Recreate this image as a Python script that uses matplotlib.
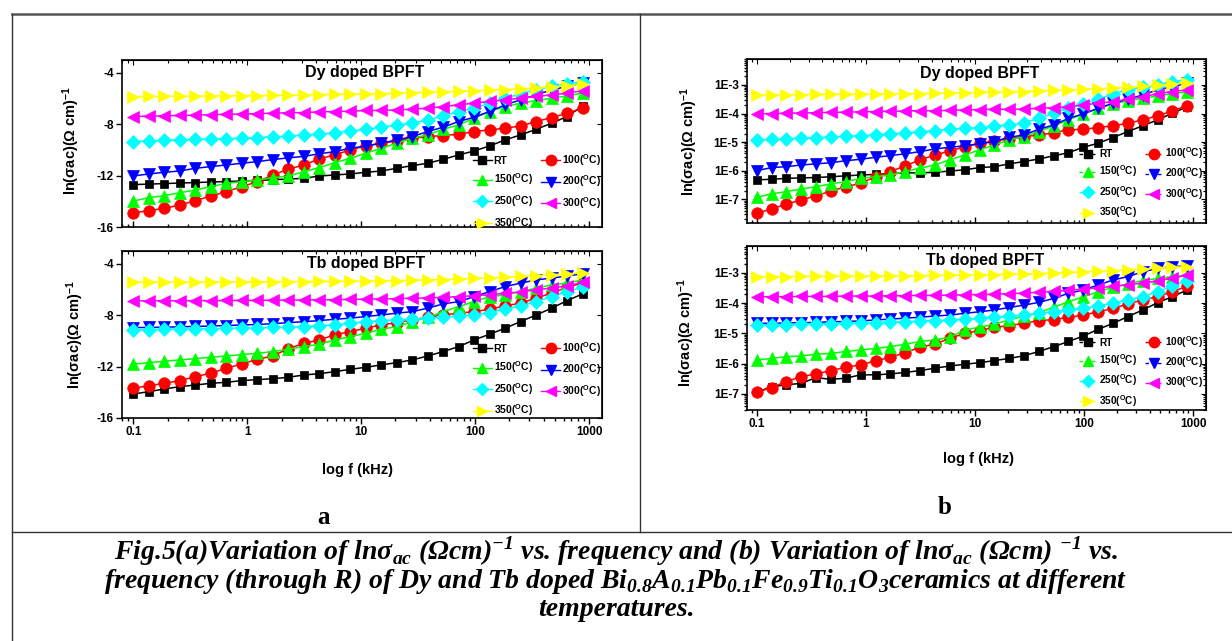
import numpy as np
import matplotlib
matplotlib.use("Agg")
import matplotlib.pyplot as plt
from matplotlib.lines import Line2D
from matplotlib.ticker import FixedLocator, FuncFormatter, NullFormatter

plt.rcParams['font.family'] = ['Liberation Sans', 'DejaVu Sans']
plt.rcParams['font.weight'] = 'bold'
plt.rcParams['axes.unicode_minus'] = False
plt.rcParams['mathtext.fontset'] = 'custom'
plt.rcParams['mathtext.rm'] = 'Liberation Sans:bold'
plt.rcParams['mathtext.bf'] = 'Liberation Serif:bold:italic'
plt.rcParams['mathtext.default'] = 'rm'

# ────────────────────────────────────────────────
# Data
# ────────────────────────────────────────────────
freq_khz = [0.1, 0.137, 0.187, 0.256, 0.35, 0.479, 0.655, 0.896, 1.23, 1.68,
            2.29, 3.14, 4.29, 5.87, 8.03, 11.0, 15.0, 20.5, 28.1, 38.4,
            52.5, 71.8, 98.2, 134, 184, 251, 344, 470, 643, 880]

temps = ['RT', '100', '150', '200', '250', '300', '350']

# (a) Dy doped, ln(sigma_ac)
dy_ln_rt = [-12.7, -12.66, -12.62, -12.58, -12.54, -12.5, -12.46, -12.42, -12.37, -12.32,
            -12.27, -12.21, -12.03, -11.95, -11.87, -11.74, -11.64, -11.43, -11.22, -11.04,
            -10.73, -10.39, -10.08, -9.69, -9.22, -8.83, -8.39, -7.92, -7.40, -6.57]
dy_ln_100 = [-14.89, -14.73, -14.55, -14.29, -13.95, -13.59, -13.25, -12.86, -12.47, -11.95,
             -11.5, -11.17, -10.7, -10.39, -10.0, -9.69, -9.48, -9.3, -9.09, -8.96,
             -8.88, -8.78, -8.57, -8.44, -8.31, -8.13, -7.79, -7.48, -7.14, -6.75]
dy_ln_150 = [-13.98, -13.72, -13.56, -13.33, -13.12, -12.86, -12.6, -12.47, -12.34, -12.16,
             -12.05, -11.69, -11.38, -10.99, -10.65, -10.26, -9.87, -9.48, -9.09, -8.83,
             -8.39, -8.05, -7.53, -7.01, -6.62, -6.36, -6.16, -5.97, -5.79, -5.58]
dy_ln_200 = [-12.03, -11.87, -11.74, -11.64, -11.43, -11.3, -11.17, -11.04, -10.91, -10.75,
             -10.62, -10.5, -10.3, -10.13, -9.87, -9.69, -9.48, -9.22, -8.96, -8.57,
             -8.23, -7.79, -7.45, -7.01, -6.49, -6.1, -5.71, -5.32, -5.06, -4.8]
dy_ln_250 = [-9.35, -9.3, -9.25, -9.22, -9.17, -9.14, -9.12, -9.09, -9.04, -8.99,
             -8.93, -8.83, -8.78, -8.65, -8.52, -8.39, -8.23, -8.05, -7.92, -7.66,
             -7.35, -7.01, -6.75, -6.36, -5.97, -5.64, -5.32, -5.06, -4.86, -4.68]
dy_ln_300 = [-7.4, -7.37, -7.34, -7.32, -7.29, -7.26, -7.23, -7.2, -7.17, -7.14,
             -7.11, -7.09, -7.04, -7.01, -6.99, -6.93, -6.93, -6.88, -6.83, -6.75,
             -6.62, -6.49, -6.36, -6.23, -6.1, -5.97, -5.84, -5.71, -5.58, -5.38]
dy_ln_350 = [-5.85, -5.84, -5.83, -5.82, -5.81, -5.80, -5.79, -5.78, -5.77, -5.76,
             -5.74, -5.72, -5.70, -5.68, -5.66, -5.64, -5.61, -5.58, -5.55, -5.52,
             -5.48, -5.44, -5.40, -5.35, -5.30, -5.24, -5.17, -5.09, -5.0, -4.88]

# (a) Tb doped, ln(sigma_ac)
tb_ln_rt = [-14.13, -13.95, -13.74, -13.56, -13.43, -13.3, -13.22, -13.09, -13.01, -12.94,
            -12.83, -12.65, -12.55, -12.39, -12.21, -12.05, -11.87, -11.69, -11.48, -11.17,
            -10.83, -10.44, -9.92, -9.48, -9.01, -8.49, -7.98, -7.45, -6.86, -6.34]
tb_ln_100 = [-13.69, -13.48, -13.3, -13.09, -12.78, -12.52, -12.13, -11.79, -11.43, -11.17,
             -10.6, -10.2, -9.92, -9.53, -9.27, -9.01, -8.75, -8.57, -8.36, -8.15,
             -7.98, -7.84, -7.72, -7.53, -7.27, -7.06, -6.67, -6.28, -5.82, -5.5]
tb_ln_150 = [-11.82, -11.69, -11.58, -11.48, -11.38, -11.27, -11.17, -11.07, -10.96, -10.83,
             -10.65, -10.44, -10.26, -9.92, -9.67, -9.4, -9.09, -8.89, -8.5, -8.15,
             -7.72, -7.33, -6.94, -6.55, -6.42, -6.16, -5.9, -5.64, -5.5, -5.25]
tb_ln_200 = [-8.96, -8.95, -8.93, -8.9, -8.87, -8.84, -8.8, -8.76, -8.72, -8.66,
             -8.58, -8.5, -8.42, -8.31, -8.23, -8.1, -7.98, -7.84, -7.72, -7.45,
             -7.12, -6.94, -6.55, -6.16, -5.77, -5.5, -5.25, -5.11, -4.94, -4.78]
tb_ln_250 = [-9.14, -9.12, -9.1, -9.08, -9.06, -9.04, -9.02, -9.0, -8.98, -8.95,
             -8.92, -8.89, -8.83, -8.75, -8.62, -8.5, -8.42, -8.36, -8.31, -8.23,
             -8.15, -8.05, -7.98, -7.79, -7.51, -7.27, -6.94, -6.55, -6.16, -5.82]
tb_ln_300 = [-6.88, -6.88, -6.87, -6.87, -6.86, -6.86, -6.85, -6.85, -6.84, -6.83,
             -6.82, -6.81, -6.8, -6.79, -6.77, -6.75, -6.73, -6.71, -6.68, -6.65,
             -6.61, -6.55, -6.48, -6.4, -6.3, -6.18, -6.03, -5.88, -5.71, -5.45]
tb_ln_350 = [-5.43, -5.43, -5.42, -5.42, -5.41, -5.41, -5.40, -5.40, -5.39, -5.39,
             -5.38, -5.38, -5.37, -5.36, -5.35, -5.34, -5.32, -5.30, -5.28, -5.25,
             -5.22, -5.18, -5.14, -5.09, -5.04, -4.98, -4.92, -4.85, -4.78, -4.70]

# (b) Dy doped, log10(sigma_ac)
dy_log_rt = [-6.32, -6.30, -6.27, -6.25, -6.24, -6.21, -6.18, -6.15, -6.13, -6.10,
             -6.08, -6.07, -6.06, -6.01, -5.97, -5.89, -5.86, -5.76, -5.68, -5.59,
             -5.48, -5.37, -5.18, -5.04, -4.84, -4.63, -4.43, -4.22, -3.99, -3.76]
dy_log_100 = [-7.49, -7.34, -7.17, -7.02, -6.88, -6.71, -6.56, -6.44, -6.21, -6.03,
              -5.83, -5.62, -5.45, -5.31, -5.16, -5.04, -4.96, -4.88, -4.81, -4.75,
              -4.67, -4.57, -4.55, -4.49, -4.43, -4.34, -4.22, -4.08, -3.91, -3.72]
dy_log_150 = [-6.93, -6.81, -6.73, -6.64, -6.56, -6.46, -6.38, -6.27, -6.21, -6.15,
              -6.03, -5.91, -5.8, -5.62, -5.45, -5.27, -5.1, -4.92, -4.81, -4.63,
              -4.43, -4.22, -4.01, -3.82, -3.66, -3.55, -3.47, -3.38, -3.31, -3.23]
dy_log_200 = [-6.0, -5.89, -5.86, -5.8, -5.76, -5.72, -5.65, -5.6, -5.53, -5.47,
              -5.41, -5.33, -5.24, -5.18, -5.13, -5.06, -4.98, -4.83, -4.75, -4.55,
              -4.4, -4.17, -4.01, -3.82, -3.64, -3.5, -3.35, -3.17, -3.06, -2.94]
dy_log_250 = [-4.92, -4.9, -4.88, -4.86, -4.84, -4.82, -4.8, -4.77, -4.74, -4.71,
              -4.68, -4.64, -4.6, -4.55, -4.52, -4.49, -4.43, -4.4, -4.32, -4.17,
              -3.99, -3.82, -3.66, -3.5, -3.31, -3.17, -3.08, -3.0, -2.88, -2.83]
dy_log_300 = [-4.01, -4.0, -3.99, -3.98, -3.97, -3.96, -3.95, -3.94, -3.93, -3.92,
              -3.91, -3.9, -3.9, -3.89, -3.87, -3.86, -3.85, -3.85, -3.84, -3.82,
              -3.79, -3.76, -3.7, -3.64, -3.58, -3.5, -3.41, -3.31, -3.23, -3.17]
dy_log_350 = [-3.35, -3.35, -3.34, -3.34, -3.33, -3.33, -3.32, -3.32, -3.31, -3.31,
              -3.30, -3.30, -3.29, -3.28, -3.27, -3.26, -3.25, -3.24, -3.23, -3.21,
              -3.19, -3.17, -3.15, -3.13, -3.11, -3.08, -3.05, -3.01, -2.97, -2.93]

# (b) Tb doped, log10(sigma_ac)
tb_log_rt = [-6.95, -6.76, -6.7, -6.65, -6.46, -6.52, -6.48, -6.37, -6.37, -6.34,
             -6.29, -6.23, -6.15, -6.08, -6.02, -5.97, -5.9, -5.83, -5.74, -5.6,
             -5.44, -5.27, -5.09, -4.87, -4.67, -4.45, -4.23, -3.99, -3.79, -3.57]
tb_log_100 = [-6.95, -6.79, -6.59, -6.43, -6.34, -6.23, -6.12, -6.04, -5.91, -5.79,
              -5.64, -5.46, -5.35, -5.17, -5.0, -4.91, -4.8, -4.75, -4.67, -4.58,
              -4.55, -4.47, -4.4, -4.29, -4.18, -4.03, -3.9, -3.79, -3.63, -3.44]
tb_log_150 = [-5.88, -5.83, -5.77, -5.75, -5.69, -5.66, -5.6, -5.55, -5.5, -5.44,
              -5.36, -5.27, -5.22, -5.13, -4.89, -4.8, -4.7, -4.56, -4.43, -4.32,
              -4.14, -3.96, -3.79, -3.63, -3.48, -3.37, -3.26, -3.19, -3.13, -3.08]
tb_log_200 = [-4.67, -4.67, -4.66, -4.65, -4.64, -4.62, -4.61, -4.59, -4.56, -4.53,
              -4.5, -4.47, -4.43, -4.4, -4.34, -4.29, -4.23, -4.15, -4.07, -3.98,
              -3.85, -3.68, -3.57, -3.41, -3.24, -3.13, -2.97, -2.86, -2.8, -2.78]
tb_log_250 = [-4.72, -4.72, -4.71, -4.7, -4.69, -4.68, -4.67, -4.66, -4.65, -4.63,
              -4.62, -4.6, -4.58, -4.56, -4.54, -4.51, -4.47, -4.43, -4.4, -4.34,
              -4.29, -4.23, -4.18, -4.1, -4.01, -3.9, -3.79, -3.63, -3.44, -3.26]
tb_log_300 = [-3.79, -3.79, -3.79, -3.78, -3.78, -3.78, -3.77, -3.77, -3.77, -3.76,
              -3.76, -3.75, -3.75, -3.74, -3.73, -3.72, -3.71, -3.69, -3.67, -3.65,
              -3.62, -3.58, -3.54, -3.5, -3.45, -3.4, -3.34, -3.27, -3.18, -3.08]
tb_log_350 = [-3.13, -3.13, -3.13, -3.12, -3.12, -3.12, -3.11, -3.11, -3.11, -3.1,
              -3.1, -3.1, -3.09, -3.09, -3.08, -3.07, -3.06, -3.05, -3.04, -3.03,
              -3.01, -2.99, -2.97, -2.95, -2.93, -2.91, -2.88, -2.85, -2.82, -2.8]

colors = ['black', 'red', '#00ff00', 'blue', 'cyan', 'magenta', '#ffff00']
markers = ['s', 'o', '^', 'v', 'D', '<', '>']
msizes = [5.8, 8.3, 8.3, 8.3, 7.0, 8.3, 8.3]

W, H = 1232, 641


def fx(x):
    return x / W


def fy(y):
    return 1 - y / H


def add_axes_px(fig, left, top, right, bottom):
    return fig.add_axes([fx(left), fy(bottom), (right - left) / W, (bottom - top) / H])


def legend_label(t):
    return 'RT' if t == 'RT' else t + '($^{O}$C)'


def draw_panel(ax, series, title, title_xy, log_y, show_xlabels, leg_dashed, leg_anchor):
    for vals, c, m, s in zip(series, colors, markers, msizes):
        y = np.power(10.0, vals) if log_y else vals
        ax.plot(freq_khz, y, color=c, marker=m, ms=s, lw=1.1, mec=c, mew=0.5)

    ax.set_xscale('log')
    if log_y:
        ax.set_yscale('log')
        ax.yaxis.set_major_locator(FixedLocator([1e-7, 1e-6, 1e-5, 1e-4, 1e-3]))
        ax.yaxis.set_major_formatter(
            FuncFormatter(lambda v, p: '1E%d' % int(round(np.log10(v)))))
        ax.yaxis.set_minor_formatter(NullFormatter())
    else:
        ax.yaxis.set_major_locator(FixedLocator([-16, -12, -8, -4]))
        ax.yaxis.set_major_formatter(FuncFormatter(lambda v, p: '%d' % v))

    ax.xaxis.set_major_locator(FixedLocator([0.1, 1, 10, 100, 1000]))
    ax.xaxis.set_major_formatter(FuncFormatter(lambda v, p: '%g' % v))
    ax.xaxis.set_minor_formatter(NullFormatter())

    ax.tick_params(which='both', direction='out', width=1.0, labelsize=8.5, pad=2)
    ax.tick_params(which='major', length=4)
    ax.tick_params(which='minor', length=2.2)
    if not show_xlabels:
        ax.tick_params(axis='x', which='both', direction='in', labelbottom=False)
    for sp in ax.spines.values():
        sp.set_linewidth(1.2)

    # mirrored inward ticks on top and right
    secx = ax.secondary_xaxis('top')
    secx.set_xscale('log')
    secx.xaxis.set_major_locator(FixedLocator([0.1, 1, 10, 100, 1000]))
    secx.tick_params(which='both', direction='in', labeltop=False, width=0.8)
    secx.tick_params(which='major', length=3.5)
    secx.tick_params(which='minor', length=2)
    secy = ax.secondary_yaxis('right')
    if log_y:
        secy.set_yscale('log')
    secy.yaxis.set_major_locator(ax.yaxis.get_major_locator())
    secy.tick_params(which='both', direction='in', labelright=False, width=0.8)
    secy.tick_params(which='major', length=3.5)
    secy.tick_params(which='minor', length=2)

    ax.text(title_xy[0], title_xy[1], title, transform=ax.transAxes,
            ha='center', va='center', fontsize=11.5, fontweight='bold')

    ax.set_ylabel('ln($\\sigma$ac)($\\Omega$ cm)$^{-1}$', fontsize=10.5, fontweight='bold')
    if show_xlabels:
        ax.set_xlabel('log f (kHz)', fontsize=10.5, fontweight='bold')

    # row-wise legend order: RT 100 / 150 200 / 250 300 / 350
    order = [0, 2, 4, 6, 1, 3, 5]
    ls = (0, (2.5, 2.0)) if leg_dashed else '-'
    handles = [Line2D([], [], color=colors[i], marker=markers[i], ms=msizes[i] * 0.9,
                      ls=ls, lw=1.0) for i in order]
    fs = 7.2 if leg_dashed else 7.5
    sp = 0.45 if leg_dashed else 0.55
    ax.legend(handles, [legend_label(temps[i]) for i in order], ncol=2,
              loc='lower right', bbox_to_anchor=leg_anchor, frameon=False,
              fontsize=fs, handlelength=1.8, handletextpad=0.2, columnspacing=0.8,
              labelspacing=sp, borderaxespad=0.0, borderpad=0.3, numpoints=1)
    return ax


fig = plt.figure(figsize=(W / 100, H / 100), dpi=100)

# (a) ln axes
ax1 = add_axes_px(fig, 122, 60, 602, 227)
draw_panel(ax1, [dy_ln_rt, dy_ln_100, dy_ln_150, dy_ln_200, dy_ln_250, dy_ln_300, dy_ln_350],
           'Dy doped BPFT', (0.506, 0.928), False, False, False, (1.005, -0.04))
ax1.set_xlim(0.0796, 1300)
ax1.set_ylim(-16, -3)
ax1.yaxis.set_label_coords(-0.083, 0.52)

ax2 = add_axes_px(fig, 122, 251, 602, 418)
draw_panel(ax2, [tb_ln_rt, tb_ln_100, tb_ln_150, tb_ln_200, tb_ln_250, tb_ln_300, tb_ln_350],
           'Tb doped BPFT', (0.508, 0.928), False, True, False, (1.005, -0.02))
ax2.set_xlim(0.0796, 1300)
ax2.set_ylim(-16, -3)
ax2.yaxis.set_label_coords(-0.075, 0.5)
ax2.xaxis.set_label_coords(0.49, -0.27)

# (b) log axes
ax3 = add_axes_px(fig, 747, 59, 1206, 223)
draw_panel(ax3, [dy_log_rt, dy_log_100, dy_log_150, dy_log_200, dy_log_250, dy_log_300, dy_log_350],
           'Dy doped BPFT', (0.507, 0.909), True, False, True, (1.0, 0.0))
ax3.set_xlim(0.0815, 1307)
ax3.set_ylim(1.48e-8, 8.1e-3)
ax3.yaxis.set_label_coords(-0.102, 0.5)

ax4 = add_axes_px(fig, 747, 246, 1206, 410)
draw_panel(ax4, [tb_log_rt, tb_log_100, tb_log_150, tb_log_200, tb_log_250, tb_log_300, tb_log_350],
           'Tb doped BPFT', (0.519, 0.91), True, True, True, (1.0, -0.01))
ax4.set_xlim(0.0815, 1307)
ax4.set_ylim(2.95e-8, 7.6e-3)
ax4.yaxis.set_label_coords(-0.108, 0.476)
ax4.xaxis.set_label_coords(0.505, -0.256)

# table frame around the figure
frame_kw = dict(color='#333333', lw=1.0)
fig.add_artist(Line2D([fx(12), fx(1232)], [fy(14), fy(14)], lw=1.8, color='#555555'))
fig.add_artist(Line2D([fx(12), fx(12)], [fy(14), fy(641)], **frame_kw))
fig.add_artist(Line2D([fx(640), fx(640)], [fy(14), fy(532)], **frame_kw))
fig.add_artist(Line2D([fx(12), fx(1232)], [fy(532), fy(532)], **frame_kw))

serif = ['Liberation Serif', 'DejaVu Serif']
fig.text(fx(323), fy(517), 'a', ha='center', va='center', fontsize=18,
         fontweight='bold', family=serif)
fig.text(fx(945), fy(507), 'b', ha='center', va='center', fontsize=18,
         fontweight='bold', family=serif)

cap1 = ('Fig.5(a)Variation of ln\u03c3$_{\\mathbf{ac}}$ (\u03a9cm)$^{\\mathbf{-1}}$ vs. frequency '
        'and (b) Variation of ln\u03c3$_{\\mathbf{ac}}$ (\u03a9cm) $^{\\mathbf{-1}}$ vs.')
cap2 = ('frequency (through R) of Dy and Tb doped Bi$_{\\mathbf{0.8}}$A$_{\\mathbf{0.1}}$'
        'Pb$_{\\mathbf{0.1}}$Fe$_{\\mathbf{0.9}}$Ti$_{\\mathbf{0.1}}$O$_{\\mathbf{3}}$ceramics at different')
cap3 = 'temperatures.'
for txt, yy in [(cap1, 551), (cap2, 581), (cap3, 610)]:
    fig.text(fx(616), fy(yy), txt, ha='center', va='center', fontsize=20,
             fontweight='bold', style='italic', family=serif)

fig.savefig('out.png', dpi=100)
